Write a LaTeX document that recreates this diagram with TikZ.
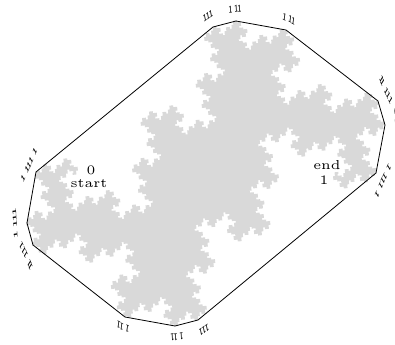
\documentclass[tikz,border=0pt]{standalone}
\usetikzlibrary{lindenmayersystems}
\pgfdeclarelindenmayersystem{Rfive}{
  \rule{F -> F+F+F-F-F}
}
\newcommand\vsp{\kern1.6pt}
\newcommand\vtri{1\kern-.9pt1\kern-.9pt1}
\newcommand\vduo{1\kern-.9pt1}
\newcommand\vthick{1\kern-2.2pt1}
\tikzset{
  fractal/.style={
    black!15,
    line width=0.95bp,
    line cap=rect
  },
  hull/.style={
    draw,
    line width=0.8bp
  },
  endlabel/.style={
    font=\tiny,
    scale=2.6,
    inner sep=0pt
  },
  vertexlabel/.style={
    font=\tiny\bfseries,
    xscale=1.1,
    yscale=2.1,
    inner sep=0pt
  }
}
\begin{document}
\begin{tikzpicture}[x=1bp,y=-1bp]
  \useasboundingbox (0,0) rectangle (395,345);
  % five pieces, one path is too long for TeX
  \begin{scope}[shift={(73,173.4)},rotate=-84.04]
    \foreach \sx/\sy/\sa in {0/0/0, 110.916/41.712/90, 69.204/152.628/180, -41.712/110.916/90, -83.424/221.832/0}
      \draw[fractal,shift={(\sx bp,\sy bp)},rotate=\sa]
        [l-system={Rfive,axiom=F,order=6,angle=90,step=0.948bp}] lindenmayer system;
  \end{scope}

  \coordinate (a) at (36,172);
  \coordinate (b) at (27,223);
  \coordinate (c) at (33,245);
  \coordinate (d) at (125,317);
  \coordinate (e) at (175,326);
  \coordinate (f) at (198,320);
  \coordinate (g) at (376,173);
  \coordinate (h) at (385,125);
  \coordinate (i) at (378,101);
  \coordinate (j) at (286,30);
  \coordinate (k) at (236,21);
  \coordinate (l) at (213,27);
  \draw[hull] (a) -- (b) -- (c) -- (d) -- (e) -- (f) -- (g) -- (h) -- (i) -- (j) -- (k) -- (l) -- cycle;

  \node[endlabel] (zero) at (91,170) {0};
  \node[endlabel] (start) at (89,184) {start};
  \node[endlabel] (end) at (327,165) {end};
  \node[endlabel] (one) at (324,180) {1};

  \foreach \px/\py/\ang/\txt in {
    29/165/50/{1\vsp\vtri\vsp 1}, 383/181/-130/{1\vsp\vtri\vsp 1},
    15/223/95/{1\vsp\vtri}, 397/123/-85/{1\vsp\vtri},
    26/256/130/{\vthick\vsp\vtri}, 386/90/-50/{\vthick\vsp\vtri},
    208/16/20/{\vtri}, 204/330/-160/{\vtri},
    235/9/5/{1\vsp\vduo}, 177/337/-175/{1\vsp\vduo},
    289/19/-15/{1\vsp\vduo}, 123/327/165/{1\vsp\vduo}}
    \node[vertexlabel,rotate=\ang] at (\px,\py) {\txt};
\end{tikzpicture}
\end{document}
